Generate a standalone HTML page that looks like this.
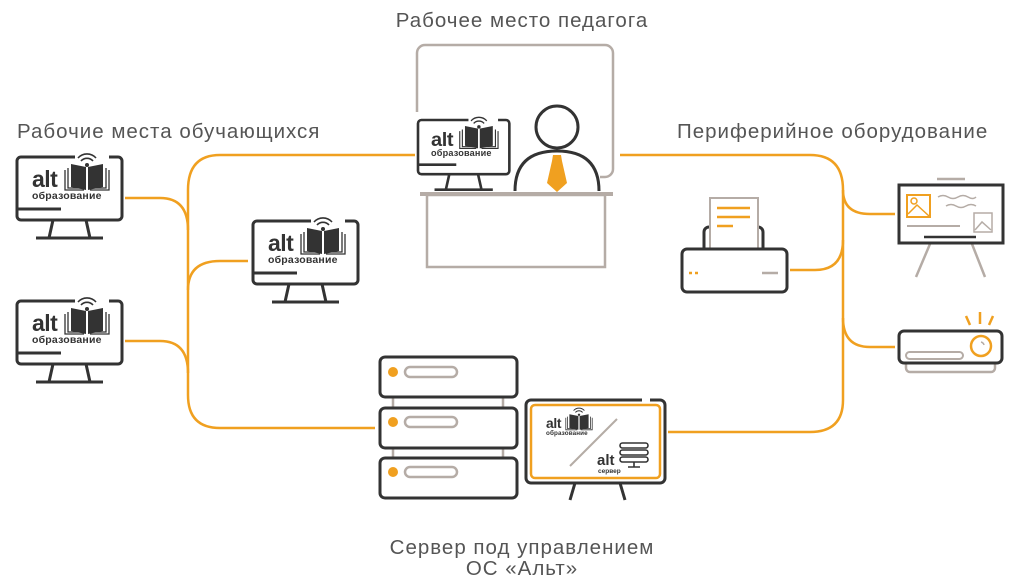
<!DOCTYPE html>
<html><head><meta charset="utf-8"><style>
html,body{margin:0;padding:0;background:#fff;}
svg{display:block;}
text{font-family:"Liberation Sans",sans-serif;}
</style></head><body>
<svg width="1024" height="585" viewBox="0 0 1024 585" xmlns="http://www.w3.org/2000/svg">
<defs>
<g id="logo">
  <text x="15" y="30" font-size="23" font-weight="bold" fill="#333" letter-spacing="-0.5">alt</text>
  <path d="M54 7 l0 23 l15 3 l0 -23 z M71 10 l0 23 l15 -3 l0 -23 z" fill="#333"/>
  <path d="M51 11 v20 h17 M89 11 v20 h-17 M48 13 v20 h19 M92 13 v20 h-19" stroke="#333" stroke-width="1.3" fill="none"/>
  <circle cx="70" cy="8" r="2" fill="#333"/>
  <path d="M64 4 a8 8 0 0 1 12 0 M61 1 a12 12 0 0 1 18 0" stroke="#333" stroke-width="1.6" fill="none"/>
  <text x="15" y="42" font-size="10.5" font-weight="bold" fill="#333" letter-spacing="0.2">образование</text>
</g>
<g id="mon">
  <path d="M58 0 H4 a4 4 0 0 0 -4 4 V59 a4 4 0 0 0 4 4 H101 a4 4 0 0 0 4 -4 V4 a4 4 0 0 0 -4 -4 H92" stroke="#333" stroke-width="3" fill="none"/>
  <path d="M0 52 H44" stroke="#333" stroke-width="3"/>
  <path d="M36 63 L32 81 M69 63 L73 81 M19 81 H86" stroke="#333" stroke-width="3" fill="none"/>
  <use href="#logo"/>
</g>
</defs>

<!-- texts -->
<g fill="#555" font-size="20.5" letter-spacing="1">
<text x="522" y="27" text-anchor="middle">Рабочее место педагога</text>
<text x="17" y="138">Рабочие места обучающихся</text>
<text x="677" y="138">Периферийное оборудование</text>
<text x="522" y="554" text-anchor="middle">Сервер под управлением</text>
<text x="522" y="575" text-anchor="middle">ОС «Альт»</text>
</g>

<!-- orange connectors -->
<g stroke="#f0a020" stroke-width="2.5" fill="none">
  <path d="M415 155 H220 Q188 155 188 190 V395 Q188 428 220 428 H375"/>
  <path d="M125 198 H160 Q188 198 188 230"/>
  <path d="M125 341 H160 Q188 341 188 373"/>
  <path d="M248 261 H220 Q188 261 188 290"/>
  <path d="M620 155 H810 Q843 155 843 190 V400 Q843 432 810 432 H668"/>
  <path d="M790 270 H815 Q843 270 843 240"/>
  <path d="M895 214 H870 Q843 214 843 190"/>
  <path d="M895 347 H870 Q843 347 843 318"/>
</g>

<!-- student monitors -->
<use href="#mon" x="17" y="157"/>
<use href="#mon" x="17" y="301"/>
<use href="#mon" x="253" y="221"/>

<!-- teacher -->
<path d="M417 112 V53 a8 8 0 0 1 8 -8 H605 a8 8 0 0 1 8 8 V169 a8 8 0 0 1 -8 8 H600" stroke="#b5aca6" stroke-width="2.5" fill="none"/>
<g transform="translate(418,120) scale(0.87,0.86)"><use href="#mon"/></g>
<circle cx="557" cy="127" r="21" stroke="#333" stroke-width="3" fill="#fff"/>
<path d="M515 191 Q515 151 557 151 Q599 151 599 191" stroke="#333" stroke-width="3" fill="none"/>
<path d="M553 155 h8 l1 6 l5 22 l-10 9 l-10 -9 l5 -22 z" fill="#f0a020"/>
<path d="M420 194 H613" stroke="#b5aca6" stroke-width="4"/>
<rect x="427" y="195" width="178" height="72" stroke="#b5aca6" stroke-width="2.5" fill="none"/>

<!-- server -->
<g stroke="#b5aca6" stroke-width="2.5">
  <path d="M393 397 V408 M503 397 V408 M393 448 V458 M503 448 V458"/>
</g>
<g stroke="#333" stroke-width="3" fill="#fff">
  <rect x="380" y="357" width="137" height="40" rx="5"/>
  <rect x="380" y="408" width="137" height="40" rx="5"/>
  <rect x="380" y="458" width="137" height="40" rx="5"/>
</g>
<g fill="#f0a020"><circle cx="393" cy="372" r="5"/><circle cx="393" cy="422" r="5"/><circle cx="393" cy="472" r="5"/></g>
<g stroke="#b5aca6" stroke-width="2.5" fill="none">
  <rect x="405" y="367" width="52" height="10" rx="5"/>
  <rect x="405" y="417" width="52" height="10" rx="5"/>
  <rect x="405" y="467" width="52" height="10" rx="5"/>
</g>

<!-- server monitor -->
<path d="M642 400 H531 a5 5 0 0 0 -5 5 V478 a5 5 0 0 0 5 5 H660 a5 5 0 0 0 5 -5 V405 a5 5 0 0 0 -5 -5 H650" stroke="#333" stroke-width="3" fill="none"/>
<rect x="531" y="405" width="129" height="73" rx="4" stroke="#f0a020" stroke-width="2.5" fill="none"/>
<path d="M575 483 L570 500 M620 483 L625 500" stroke="#333" stroke-width="3"/>
<path d="M570 466 L617 419" stroke="#b5aca6" stroke-width="2"/>
<g transform="translate(537,410) scale(0.6)"><use href="#logo"/></g>
<text x="597" y="465" font-size="15" font-weight="bold" fill="#333">alt</text>
<text x="598" y="467" font-size="6.5" font-weight="bold" fill="#333" dy="6">сервер</text>
<g stroke="#333" stroke-width="1.6" fill="none">
  <rect x="620" y="443" width="28" height="5" rx="2.5"/><rect x="620" y="450" width="28" height="5" rx="2.5"/><rect x="620" y="457" width="28" height="5" rx="2.5"/>
  <path d="M634 462 v5 M628 467 h12"/>
</g>

<!-- printer -->
<rect x="704" y="227" width="59" height="30" rx="5" stroke="#333" stroke-width="3" fill="#fff"/>
<rect x="710" y="198" width="48" height="55" stroke="#b5aca6" stroke-width="2" fill="#fff"/>
<path d="M717 208 H750 M717 217 H750 M717 226 H733" stroke="#f0a020" stroke-width="2.5"/>
<rect x="682" y="249" width="105" height="43" rx="5" stroke="#333" stroke-width="3" fill="#fff"/>
<path d="M689 273 h3 M695 273 h3" stroke="#f0a020" stroke-width="2.5"/>
<path d="M762 273 H778" stroke="#b5aca6" stroke-width="2.5"/>

<!-- whiteboard -->
<path d="M937 179 H965" stroke="#b5aca6" stroke-width="2.5"/>
<path d="M930 244 L916 277 M972 244 L985 277" stroke="#b5aca6" stroke-width="2.5"/>
<rect x="899" y="185" width="104" height="58" stroke="#333" stroke-width="3" fill="#fff"/>
<rect x="907" y="195" width="23" height="22" stroke="#f0a020" stroke-width="2" fill="none"/>
<circle cx="914" cy="201" r="3" stroke="#f0a020" stroke-width="1.5" fill="none"/>
<path d="M908 214 L917 205 L929 216" stroke="#f0a020" stroke-width="1.5" fill="none"/>
<path d="M938 197 q5 -3 10 0 t10 0 t10 0 t8 0 M946 206 q5 -3 10 0 t10 0 t10 0" stroke="#b5aca6" stroke-width="1.5" fill="none"/>
<rect x="974" y="213" width="18" height="19" stroke="#b5aca6" stroke-width="1.5" fill="none"/>
<path d="M975 230 L982 222 L991 230" stroke="#b5aca6" stroke-width="1.5" fill="none"/>
<path d="M907 226 H960" stroke="#b5aca6" stroke-width="2"/>
<path d="M924 237 H976" stroke="#333" stroke-width="2.5"/>

<!-- projector -->
<rect x="906" y="360" width="89" height="12" rx="4" stroke="#b5aca6" stroke-width="2.5" fill="#fff"/>
<rect x="899" y="331" width="103" height="32" rx="5" stroke="#333" stroke-width="3" fill="#fff"/>
<rect x="906" y="352" width="57" height="7" rx="3.5" stroke="#b5aca6" stroke-width="2" fill="none"/>
<circle cx="981" cy="346" r="10" stroke="#f0a020" stroke-width="2.5" fill="none"/>
<path d="M981 342 a4 4 0 0 1 3 3" stroke="#b5aca6" stroke-width="1.5" fill="none"/>
<path d="M966 316 L970 325 M980 312 V324 M993 316 L989 325" stroke="#f0a020" stroke-width="2.5"/>
</svg>
</body></html>
